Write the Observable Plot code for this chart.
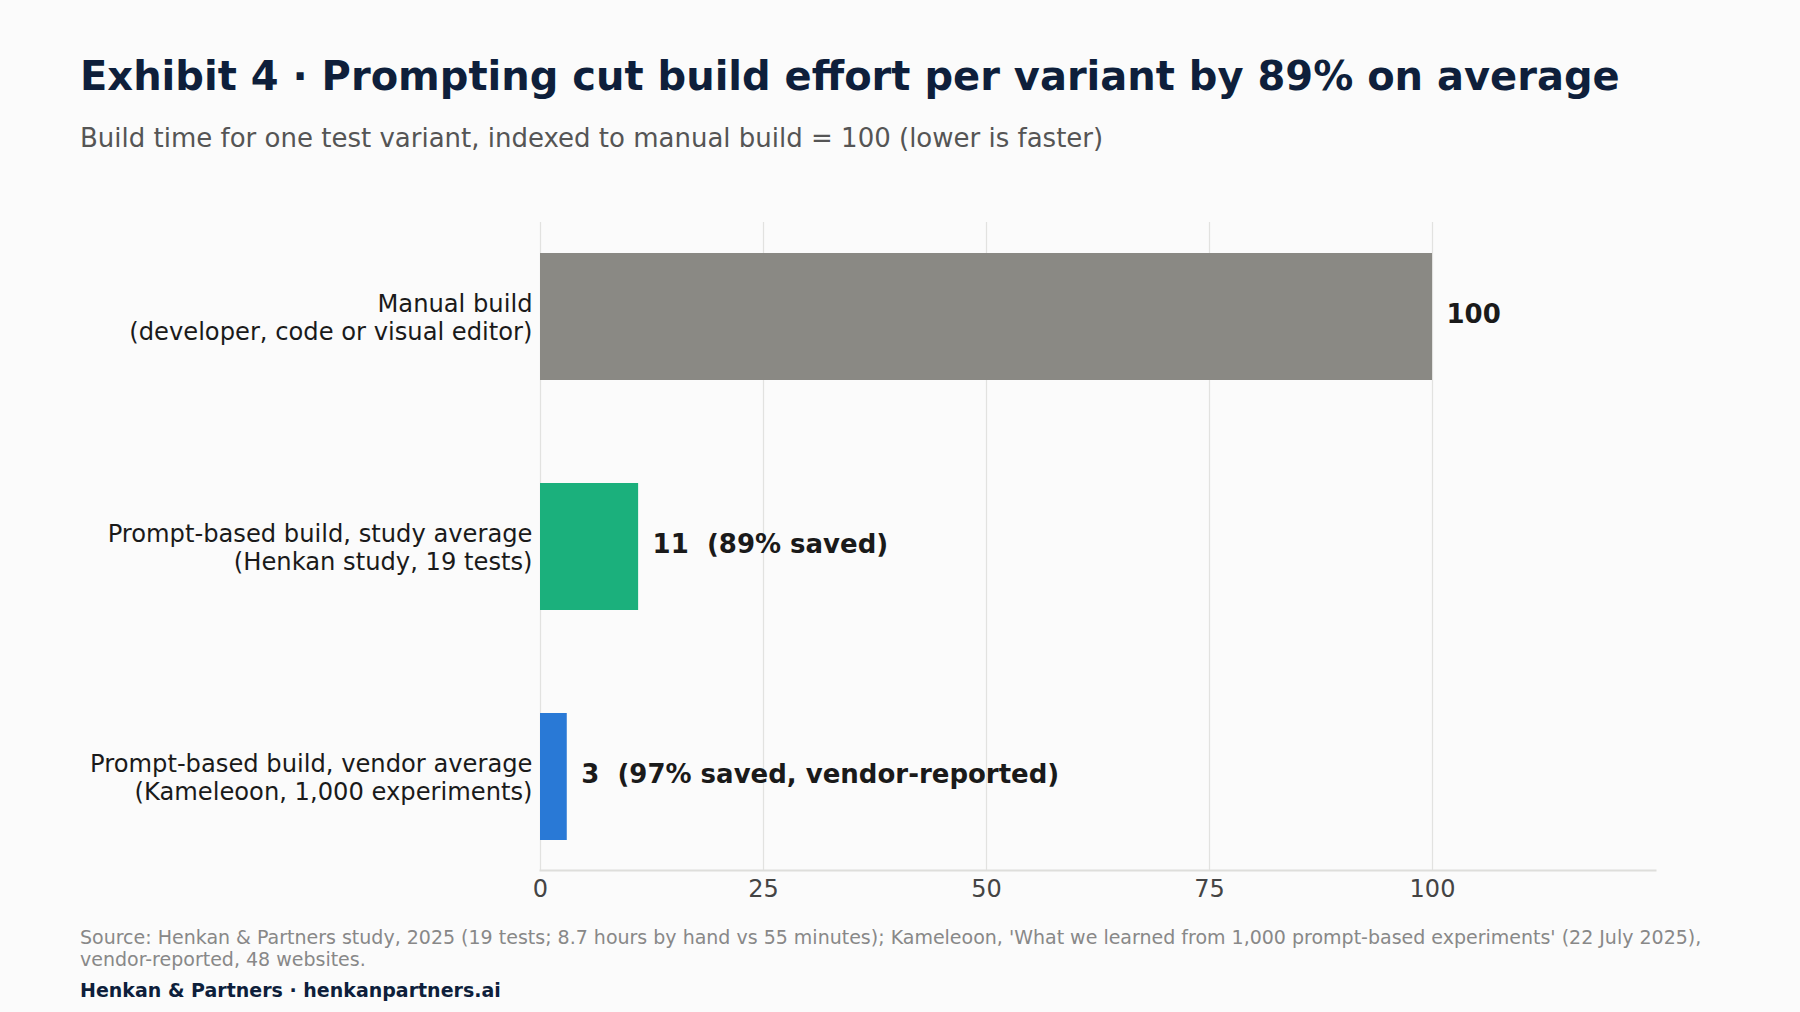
<!DOCTYPE html>
<html>
<head>
<meta charset="utf-8">
<script src="https://cdn.jsdelivr.net/npm/d3@7"></script>
<script src="https://cdn.jsdelivr.net/npm/@observablehq/plot@0.6"></script>
<style>
  html, body { margin: 0; padding: 0; background: #fbfbfb; }
  body { width: 1800px; height: 1012px; position: relative; overflow: hidden; font-family: "DejaVu Sans", sans-serif; }
  #title { position: absolute; left: 80px; top: 56px; font-size: 40px; font-weight: bold; color: #0e1f3b; white-space: nowrap; line-height: 1; }
  #subtitle { position: absolute; left: 80px; top: 125px; font-size: 26px; color: #555555; white-space: nowrap; line-height: 1; }
  #chart { position: absolute; left: 0; top: 200px; }
  #chart svg text { white-space: pre; }
  #source { position: absolute; left: 80px; top: 926px; font-size: 19px; color: #888888; line-height: 22px; white-space: nowrap; }
  #brand { position: absolute; left: 80px; top: 981px; font-size: 19px; font-weight: bold; color: #0e1f3b; white-space: nowrap; line-height: 1; }
</style>
</head>
<body>
<div id="title">Exhibit 4 · Prompting cut build effort per variant by 89% on average</div>
<div id="subtitle">Build time for one test variant, indexed to manual build = 100 (lower is faster)</div>
<div id="chart"></div>
<div id="source">Source: Henkan &amp; Partners study, 2025 (19 tests; 8.7 hours by hand vs 55 minutes); Kameleoon, 'What we learned from 1,000 prompt-based experiments' (22 July 2025),<br>vendor-reported, 48 websites.</div>
<div id="brand">Henkan &amp; Partners · henkanpartners.ai</div>
<script>
const categories = [
  "Manual build\n(developer, code or visual editor)",
  "Prompt-based build, study average\n(Henkan study, 19 tests)",
  "Prompt-based build, vendor average\n(Kameleoon, 1,000 experiments)"
];
const values = [100, 11, 3];
const valueLabels = ["100", "11  (89% saved)", "3  (97% saved, vendor-reported)"];
const barColors = ["#8a8984", "#1bb07c", "#2979d6"];
const xTicks = [0, 25, 50, 75, 100];

const data = categories.map((c, i) => ({category: c, value: values[i], label: valueLabels[i], color: barColors[i]}));

const chart = Plot.plot({
  width: 1800,
  height: 720,
  marginTop: 22,
  marginBottom: 50,
  marginLeft: 540,
  marginRight: 145,
  style: {background: "transparent", fontFamily: "DejaVu Sans, sans-serif", color: "#1a1a1a"},
  x: {domain: [0, 125]},
  y: {domain: categories, paddingInner: 0.45, paddingOuter: 0.13},
  marks: [
    Plot.gridX(xTicks, {stroke: "#e2e2e0", strokeOpacity: 1, strokeWidth: 1.2}),
    Plot.barX(data, {x: "value", y: "category", fill: "color"}),
    Plot.frame({anchor: "bottom", stroke: "#dededb", strokeWidth: 2}),
    Plot.axisX({ticks: xTicks, tickSize: 0, tickPadding: 9, fontSize: 24, color: "#444", label: null}),
    Plot.axisY({tickSize: 0, tickPadding: 8, fontSize: 24.2, lineHeight: 1.18, fill: "#1a1a1a", label: null}),
    Plot.text(data, {x: "value", y: "category", text: "label", dx: 14, dy: -2, textAnchor: "start", fontWeight: "bold", fontSize: 26, fill: "#1a1a1a"})
  ]
});
document.getElementById("chart").appendChild(chart);
</script>
</body>
</html>
